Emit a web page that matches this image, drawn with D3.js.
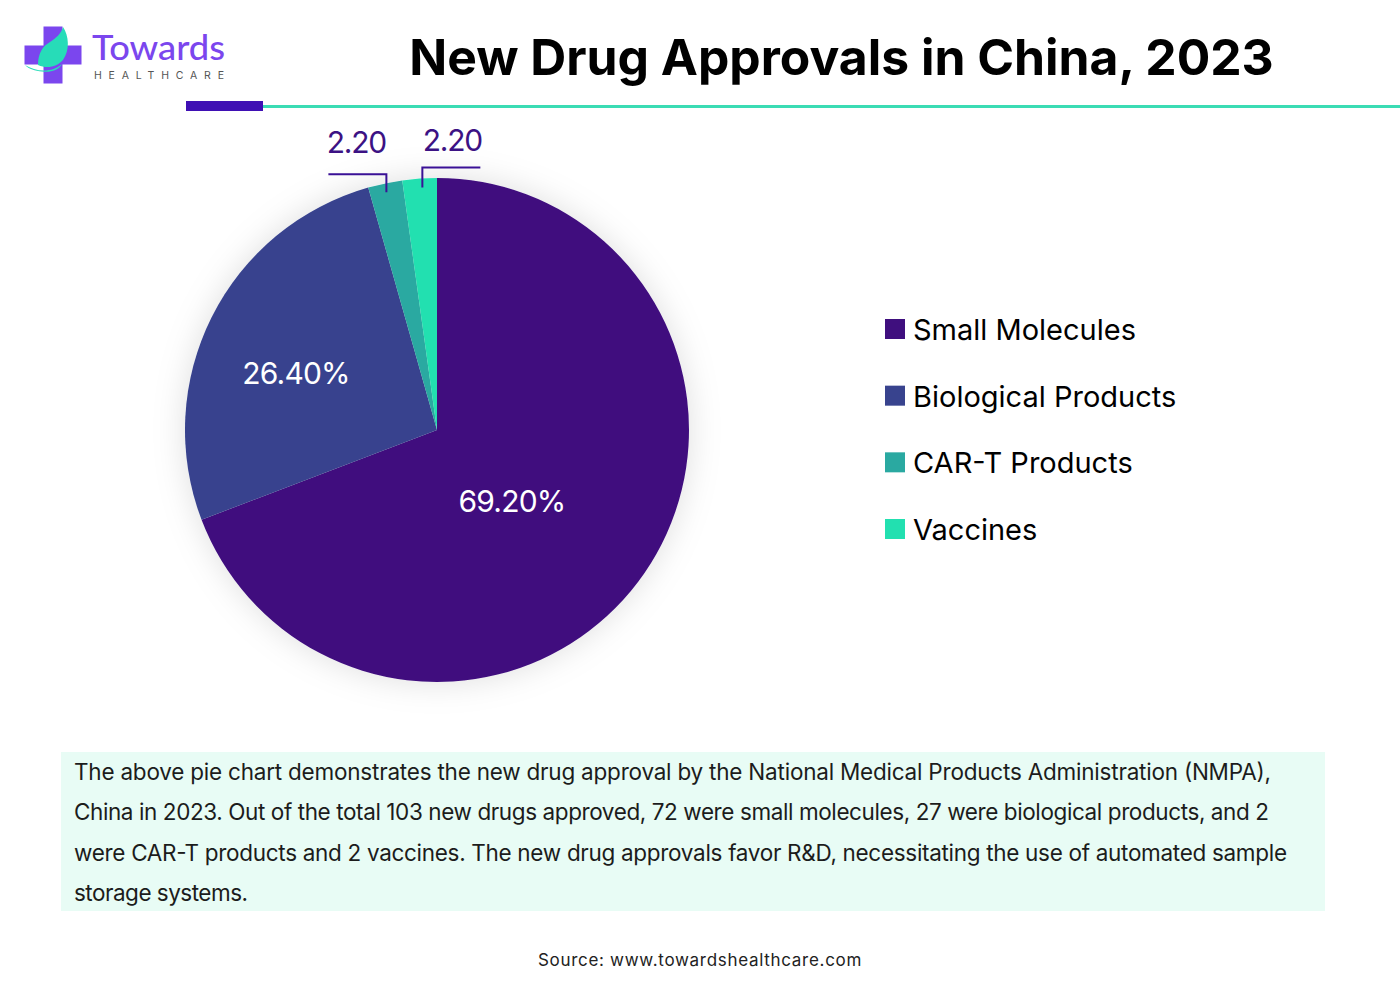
<!DOCTYPE html>
<html>
<head>
<meta charset="utf-8">
<script src="https://d3js.org/d3.v7.min.js"></script>
<style>
  html, body { margin: 0; padding: 0; background: #fff; }
  svg { display: block; }
  text { font-family: Inter, "Noto Sans", sans-serif; }
</style>
</head>
<body>
<div id="container"></div>
<script>
const categories = ['Small Molecules', 'Biological Products', 'CAR-T Products', 'Vaccines'];
const shares = [69.2, 26.4, 2.2, 2.2];
const sliceLabels = ['69.20%', '26.40%', '2.20', '2.20'];
const colors = ['#3f0f7e', '#38438e', '#2aa9a1', '#22e0b0'];
const summary = [
  'The above pie chart demonstrates the new drug approval by the National Medical Products Administration (NMPA),',
  'China in 2023. Out of the total 103 new drugs approved, 72 were small molecules, 27 were biological products, and 2',
  'were CAR-T products and 2 vaccines. The new drug approvals favor R&D, necessitating the use of automated sample',
  'storage systems.'
];

const w = 1400, h = 997;
const cx = 437, cy = 430, radius = 252;

const svg = d3.select('#container').append('svg')
  .attr('width', w)
  .attr('height', h);

const filter = svg.append('defs').append('filter')
  .attr('id', 'pieShadow')
  .attr('x', '-20%').attr('y', '-20%')
  .attr('width', '140%').attr('height', '140%');
filter.append('feDropShadow')
  .attr('dx', 0).attr('dy', 0)
  .attr('stdDeviation', 16)
  .attr('flood-color', '#000')
  .attr('flood-opacity', 0.13);

// logo
const logo = svg.append('g');
logo.append('path')
  .attr('d', 'M43.5 26.5h19v19h19v19h-19v19h-19v-19h-19v-19h19z')
  .attr('fill', '#7b46ee');
logo.append('path')
  .attr('d', 'M63 27C69 36 70 50 63 60C57 67 47 69 38 65C38 53 43 46 50 42C56 38 61 34 63 27z')
  .attr('fill', '#27dcb8');
logo.append('path')
  .attr('d', 'M25 65C36 72 52 73 62 64C58 71 50 72.5 42 71.5C35 71 29 69 25 65z')
  .attr('fill', '#27dcb8');
logo.append('text')
  .attr('x', 92).attr('y', 60)
  .style('font-family', 'Lato, sans-serif')
  .attr('font-size', 34)
  .attr('font-weight', 500)
  .attr('fill', '#7b46ee')
  .attr('textLength', 133)
  .attr('lengthAdjust', 'spacingAndGlyphs')
  .text('Towards');
logo.append('text')
  .attr('x', 94).attr('y', 79)
  .attr('font-size', 10.5)
  .attr('fill', '#555')
  .attr('textLength', 130)
  .text('HEALTHCARE');

// title and rule
svg.append('text')
  .attr('x', 841.5).attr('y', 75)
  .attr('text-anchor', 'middle')
  .attr('font-size', 49.8)
  .attr('font-weight', 700)
  .attr('fill', '#000')
  .text('New Drug Approvals in China, 2023');
svg.append('rect')
  .attr('x', 263).attr('y', 105).attr('width', 1137).attr('height', 3)
  .attr('fill', '#3bdcb4');
svg.append('rect')
  .attr('x', 186).attr('y', 101).attr('width', 77).attr('height', 10)
  .attr('fill', '#3f10b4');

// pie
const pie = d3.pie().sort(null).value(d => d);
const arc = d3.arc().innerRadius(0).outerRadius(radius);
const arcs = pie(shares);
const g = svg.append('g').attr('transform', `translate(${cx},${cy})`);

g.append('g')
  .attr('filter', 'url(#pieShadow)')
  .selectAll('path')
  .data(arcs)
  .enter()
  .append('path')
  .attr('d', arc)
  .attr('fill', (d, i) => colors[i]);

// labels inside the two big slices
const inner = [[75, 71], [-141, -57]];
g.selectAll('.inner')
  .data(arcs.slice(0, 2))
  .enter()
  .append('text')
  .attr('class', 'inner')
  .attr('x', (d, i) => inner[i][0])
  .attr('y', (d, i) => inner[i][1] + 11)
  .attr('text-anchor', 'middle')
  .attr('font-size', 30)
  .attr('letter-spacing', -0.8)
  .attr('fill', '#fff')
  .text((d, i) => sliceLabels[i]);

// leader lines for the two thin slices, anchored on the slice centroid
const leaderArc = d3.arc().innerRadius(radius - 13).outerRadius(radius - 9);
const leaders = [
  { slice: 2, rise: 18, dir: -1, dx: -1, dy: -2, labelY: 153 },
  { slice: 3, rise: 20, dir: 1, dx: 2, dy: -2, labelY: 151 }
];
leaders.forEach(l => {
  const c = leaderArc.centroid(arcs[l.slice]);
  const x = c[0] + l.dx;
  const y = c[1] + l.dy;
  g.append('path')
    .attr('d', `M${x},${y}V${y - l.rise}H${x + l.dir * 58}`)
    .attr('fill', 'none')
    .attr('stroke', '#3a1196')
    .attr('stroke-width', 2);
  svg.append('text')
    .attr('x', cx + x + l.dir * 30)
    .attr('y', l.labelY)
    .attr('text-anchor', 'middle')
    .attr('font-size', 30)
    .attr('letter-spacing', -1.2)
    .attr('fill', '#3c1284')
    .text(sliceLabels[l.slice]);
});

// legend
const legendY = d3.scalePoint().domain(categories).range([330, 530]);
const legend = svg.selectAll('.legend')
  .data(categories)
  .enter()
  .append('g')
  .attr('class', 'legend')
  .attr('transform', d => `translate(885,${legendY(d)})`);
legend.append('rect')
  .attr('y', -11).attr('width', 20).attr('height', 20)
  .attr('fill', (d, i) => colors[i]);
legend.append('text')
  .attr('x', 28).attr('y', 10)
  .attr('font-size', 29)
  .attr('fill', '#000')
  .text(d => d);

// summary box
const summaryWidths = [1197, 1195, 1213, 174];
svg.append('rect')
  .attr('x', 61).attr('y', 752).attr('width', 1264).attr('height', 159)
  .attr('fill', '#e8fcf5');
svg.selectAll('.summary')
  .data(summary)
  .enter()
  .append('text')
  .attr('class', 'summary')
  .attr('x', 74)
  .attr('y', (d, i) => 780 + i * 40.3)
  .attr('font-size', 22.5)
  .attr('textLength', (d, i) => summaryWidths[i])
  .attr('fill', '#1c1c1c')
  .text(d => d);

svg.append('text')
  .attr('x', 700).attr('y', 966)
  .attr('text-anchor', 'middle')
  .attr('font-size', 17)
  .attr('letter-spacing', 0.7)
  .attr('fill', '#222')
  .text('Source: www.towardshealthcare.com');
</script>
</body>
</html>
